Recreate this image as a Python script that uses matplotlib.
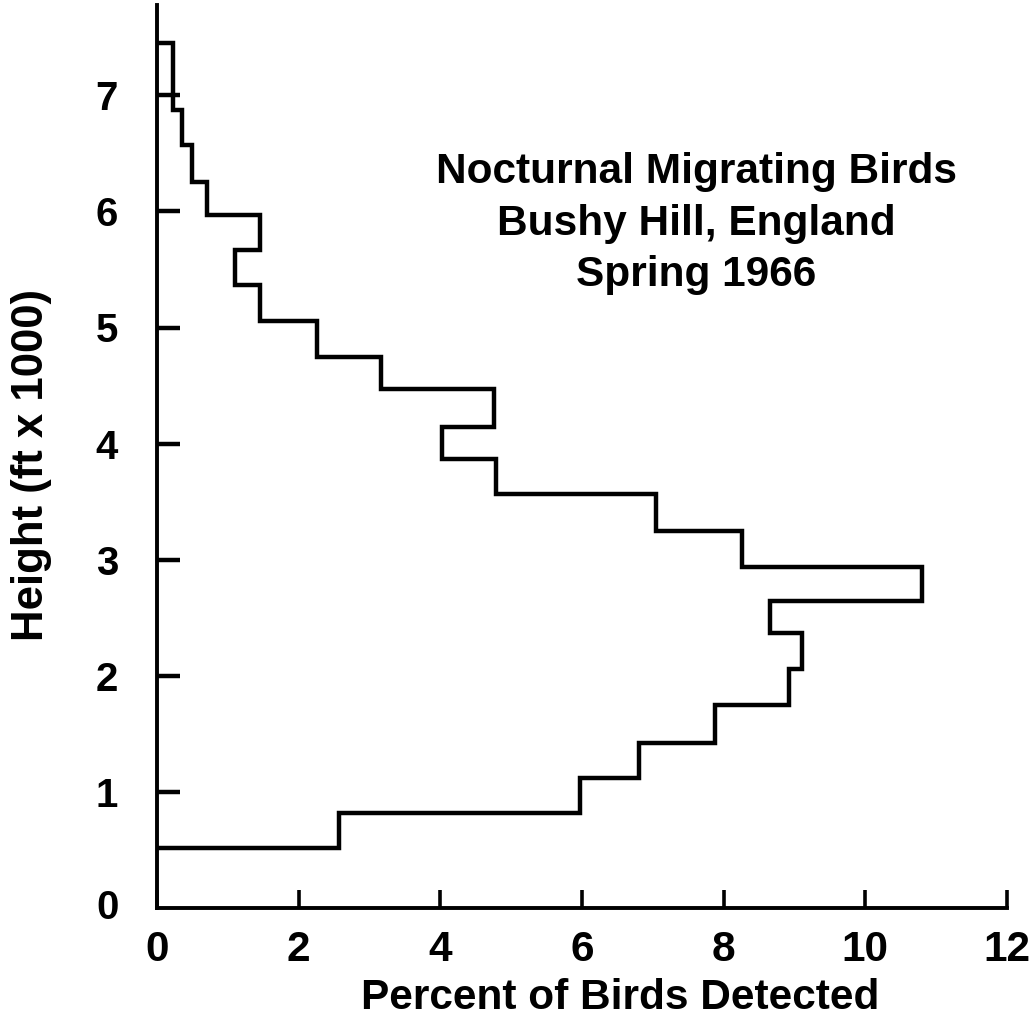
import matplotlib
matplotlib.use("Agg")
import matplotlib.pyplot as plt

plt.rcParams['font.family'] = ['Liberation Sans', 'DejaVu Sans']
plt.rcParams['font.weight'] = 'bold'

# Height bin edges (ft x 1000) and percent of birds detected in each bin
height_edges = [0.52, 0.82, 1.12, 1.42, 1.75, 2.06, 2.37, 2.64, 2.94, 3.25, 3.57,
                3.87, 4.14, 4.47, 4.75, 5.06, 5.37, 5.67, 5.97, 6.25, 6.57, 6.87, 7.45]
percent = [2.57, 5.97, 6.81, 7.88, 8.92, 9.10, 8.65, 10.80, 8.26, 7.04, 4.79,
           4.02, 4.76, 3.16, 2.26, 1.45, 1.10, 1.45, 0.70, 0.49, 0.35, 0.22]

x_ticks = [0, 2, 4, 6, 8, 10, 12]
y_ticks = [1, 2, 3, 4, 5, 6, 7]
title_lines = ["Nocturnal Migrating Birds", "Bushy Hill, England", "Spring 1966"]
x_label = "Percent of Birds Detected"
y_label = "Height (ft x 1000)"

W, H = 1034, 1025
fig = plt.figure(figsize=(W / 100, H / 100), dpi=100)
ax = fig.add_axes([157 / W, 1 - 908 / H, (1007 - 157) / W, (908 - 5) / H])

ax.stairs(percent, height_edges, orientation='horizontal', baseline=0,
          color='black', linewidth=3.2)

ax.set_xlim(0, 12)
ax.set_ylim(0, (908 - 5) / 116.1)

for s in ['top', 'right']:
    ax.spines[s].set_visible(False)
for s in ['left', 'bottom']:
    ax.spines[s].set_linewidth(2.8)
    ax.spines[s].set_color('black')

ax.set_xticks(x_ticks)
ax.set_xticklabels([str(v) for v in x_ticks])
ax.set_yticks(y_ticks)
ax.set_yticklabels([str(v) for v in y_ticks])
ax.tick_params(axis='x', direction='in', length=13, width=2.6, pad=16,
               labelsize=30.5)
ax.tick_params(axis='y', direction='in', length=16.5, width=3.2, pad=28,
               labelsize=29)

# "0" label at the origin of the y axis (no tick mark there)
ax.text(-0.045, 0.0, "0", transform=ax.get_yaxis_transform(), ha='right', va='center',
        fontsize=29, fontweight='bold')

baselines = [183, 235, 286]
for line, b in zip(title_lines, baselines):
    fig.text(696 / W, 1 - b / H, line, ha='center', va='baseline',
             fontsize=30.5, fontweight='bold')

fig.text(620 / W, 1 - 1009 / H, x_label, ha='center', va='baseline',
         fontsize=30.5, fontweight='bold')
fig.text(32 / W, 1 - 465 / H, y_label, ha='center', va='center', rotation=90,
         fontsize=31.5, fontweight='bold')

fig.savefig("out.png", dpi=100, facecolor='white')
